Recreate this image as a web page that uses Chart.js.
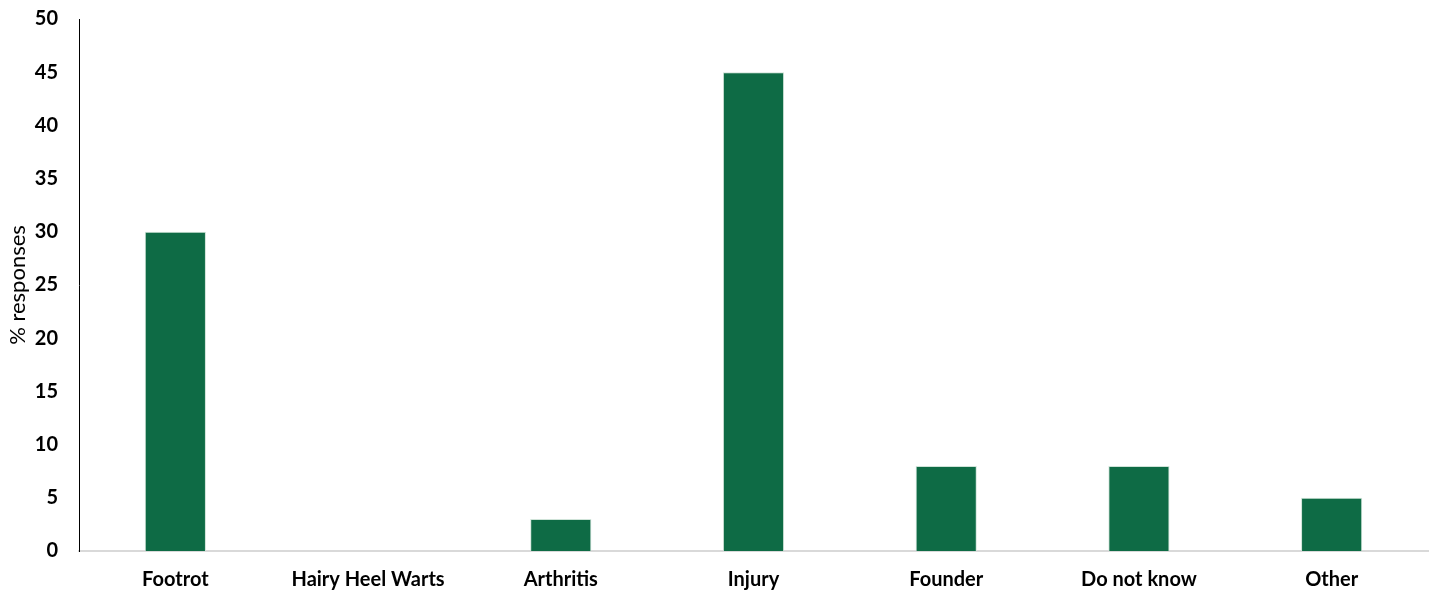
<!DOCTYPE html>
<html>
<head>
<meta charset="utf-8">
<script src="https://cdn.jsdelivr.net/npm/chart.js@4.4.1/dist/chart.umd.min.js"></script>
<style>
  html, body { margin: 0; padding: 0; background: #fff; }
  #wrap { width: 1439px; height: 592px; }
</style>
</head>
<body>
<div id="wrap"><canvas id="lamenessChart"></canvas></div>
<script>
const categories = ['Footrot', 'Hairy Heel Warts', 'Arthritis', 'Injury', 'Founder', 'Do not know', 'Other'];
const responses = [30, 0, 3, 45, 8, 8, 5];
const yTicks = [0, 5, 10, 15, 20, 25, 30, 35, 40, 45, 50];

const barGreen = '#0e6b45';

const ctx = document.getElementById('lamenessChart').getContext('2d');
const chart = new Chart(ctx, {
    type: 'bar',
    data: {
        labels: categories,
        datasets: [{
            label: '% responses',
            data: responses,
            backgroundColor: barGreen,
            borderColor: '#cfe3d8',
            borderWidth: 1,
            barPercentage: 0.635,
            categoryPercentage: 0.5
        }]
    },
    options: {
        responsive: true,
        maintainAspectRatio: false,
        animation: false,
        layout: { padding: { top: 19, right: 11, bottom: 0, left: 0 } },
        plugins: {
            legend: { display: false },
            tooltip: { enabled: false }
        },
        scales: {
            x: {
                grid: { display: false, drawTicks: false },
                border: { display: true, color: '#d9d9d9', width: 2 },
                ticks: {
                    color: '#000',
                    padding: 17,
                    font: { family: 'Lato', size: 20, weight: 'bold' }
                },
                // fixed axis band so the plot bottom sits where the original does
                afterFit: axis => { axis.height = 41; }
            },
            y: {
                min: 0,
                max: 50,
                afterBuildTicks: axis => { axis.ticks = yTicks.map(v => ({ value: v })); },
                afterFit: axis => {
                    axis.width = 79;
                    axis.paddingTop = 0;
                    axis.paddingBottom = 0;
                },
                grid: { display: false, drawTicks: false },
                border: { display: true, color: '#000', width: 1 },
                ticks: {
                    color: '#000',
                    padding: 21,
                    font: { family: 'Lato', size: 20, weight: 'bold' }
                },
                title: {
                    display: true,
                    text: '% responses',
                    color: '#000',
                    padding: { top: 5, bottom: 0 },
                    font: { family: 'Lato', size: 22 }
                }
            }
        }
    }
});
</script>
</body>
</html>
